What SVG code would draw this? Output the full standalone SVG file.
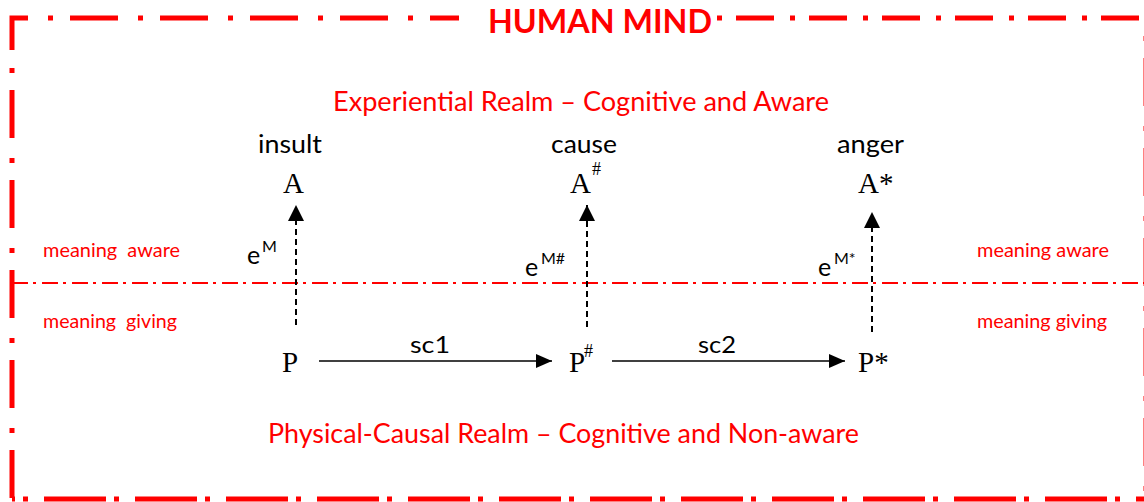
<svg xmlns="http://www.w3.org/2000/svg" width="1144" height="502" viewBox="0 0 1144 502">
<defs>
<style>
.red{fill:#ff0000;font-family:Lato,"Liberation Sans",sans-serif}
.blk{fill:#000;font-family:Lato,"Liberation Sans",sans-serif}
.ser{fill:#000;font-family:"Liberation Serif",serif}
.dash{stroke:#000;stroke-width:2;stroke-dasharray:6 4;fill:none}
.solid{stroke:#000;stroke-width:1.5;fill:none}
.bd{fill:none;stroke:#ff0000;stroke-width:5}
</style>
<marker id="ah" viewBox="0 0 16 14" refX="16" refY="7" markerWidth="16" markerHeight="14" markerUnits="userSpaceOnUse" orient="auto">
<path d="M0,0 L16,7 L0,14 Z" fill="#000"/>
</marker>
<marker id="ahv" viewBox="0 0 16 16" refX="16" refY="8" markerWidth="16" markerHeight="16" markerUnits="userSpaceOnUse" orient="auto">
<path d="M0,0 L16,8 L0,16 Z" fill="#000"/>
</marker>
</defs>
<rect width="1144" height="502" fill="#fff"/>
<g id="border">
<path d="M12,50 V18 H459" class="bd" stroke-dasharray="48 20 5 17"/>
<path d="M12,50 V499" class="bd" stroke-dasharray="48 20 5 17" stroke-dashoffset="50"/>
<path d="M717,18 H1146" class="bd" stroke-dasharray="5 14 38 16"/>
<path d="M12,499 H1146" class="bd" stroke-dasharray="62 8 5 16" stroke-dashoffset="59"/>
<path d="M1146,18 V499" class="bd" stroke-dasharray="48 20 5 17" stroke-dashoffset="50"/>
<text x="488" y="33" class="red" font-size="32" font-weight="bold" textLength="224" lengthAdjust="spacingAndGlyphs">HUMAN MIND</text>
</g>
<g id="divider">
<line x1="12" y1="283" x2="1144" y2="283" stroke="#ff0000" stroke-width="2" stroke-dasharray="16 5 3 6"/>
</g>
<g id="labels">
<text x="333" y="111" class="red" font-size="26" textLength="496" lengthAdjust="spacingAndGlyphs">Experiential Realm – Cognitive and Aware</text>
<text x="268" y="443" class="red" font-size="26" textLength="591" lengthAdjust="spacingAndGlyphs">Physical-Causal Realm – Cognitive and Non-aware</text>
<text x="43" y="257" class="red" font-size="19" textLength="137" lengthAdjust="spacingAndGlyphs" xml:space="preserve">meaning  aware</text>
<text x="43" y="328" class="red" font-size="19" textLength="134" lengthAdjust="spacingAndGlyphs" xml:space="preserve">meaning  giving</text>
<text x="977" y="257" class="red" font-size="19" textLength="132" lengthAdjust="spacingAndGlyphs">meaning aware</text>
<text x="977" y="328" class="red" font-size="19" textLength="130" lengthAdjust="spacingAndGlyphs">meaning giving</text>
</g>
<g id="node-A">
<text x="258" y="153" class="blk" font-size="25" textLength="64" lengthAdjust="spacingAndGlyphs">insult</text>
<text x="283" y="193" class="ser" font-size="29">A</text>
</g>
<g id="node-A-hash">
<text x="551" y="153" class="blk" font-size="25" textLength="66" lengthAdjust="spacingAndGlyphs">cause</text>
<text x="570" y="193" class="ser" font-size="29">A</text>
<text x="592" y="175" class="ser" font-size="18">#</text>
</g>
<g id="node-A-star">
<text x="837" y="153" class="blk" font-size="25" textLength="67" lengthAdjust="spacingAndGlyphs">anger</text>
<text x="858" y="193" class="ser" font-size="29">A*</text>
</g>
<g id="node-P">
<text x="282" y="372" class="ser" font-size="29">P</text>
</g>
<g id="node-P-hash">
<text x="569" y="372" class="ser" font-size="29">P</text>
<text x="584" y="357" class="ser" font-size="18">#</text>
</g>
<g id="node-P-star">
<text x="858" y="372" class="ser" font-size="29">P*</text>
</g>
<g id="connectors">
<line x1="296" y1="325" x2="296" y2="205" class="dash" marker-end="url(#ahv)"/>
<line x1="587" y1="327" x2="587" y2="205" class="dash" marker-end="url(#ahv)"/>
<line x1="872" y1="332" x2="872" y2="212" class="dash" marker-end="url(#ahv)"/>
<line x1="319" y1="361" x2="552" y2="361" class="solid" marker-end="url(#ah)"/>
<line x1="612" y1="361" x2="845" y2="361" class="solid" marker-end="url(#ah)"/>
<text x="410" y="353" class="blk" font-size="23" textLength="40" lengthAdjust="spacingAndGlyphs">sc1</text>
<text x="698" y="353" class="blk" font-size="23" textLength="38" lengthAdjust="spacingAndGlyphs">sc2</text>
<text x="247" y="264" class="blk" font-size="25">e</text>
<text x="262" y="252" class="blk" font-size="16">M</text>
<text x="525" y="276" class="blk" font-size="25">e</text>
<text x="541" y="264" class="blk" font-size="16">M#</text>
<text x="818" y="276" class="blk" font-size="25">e</text>
<text x="834" y="264" class="blk" font-size="16">M*</text>
</g>
</svg>
